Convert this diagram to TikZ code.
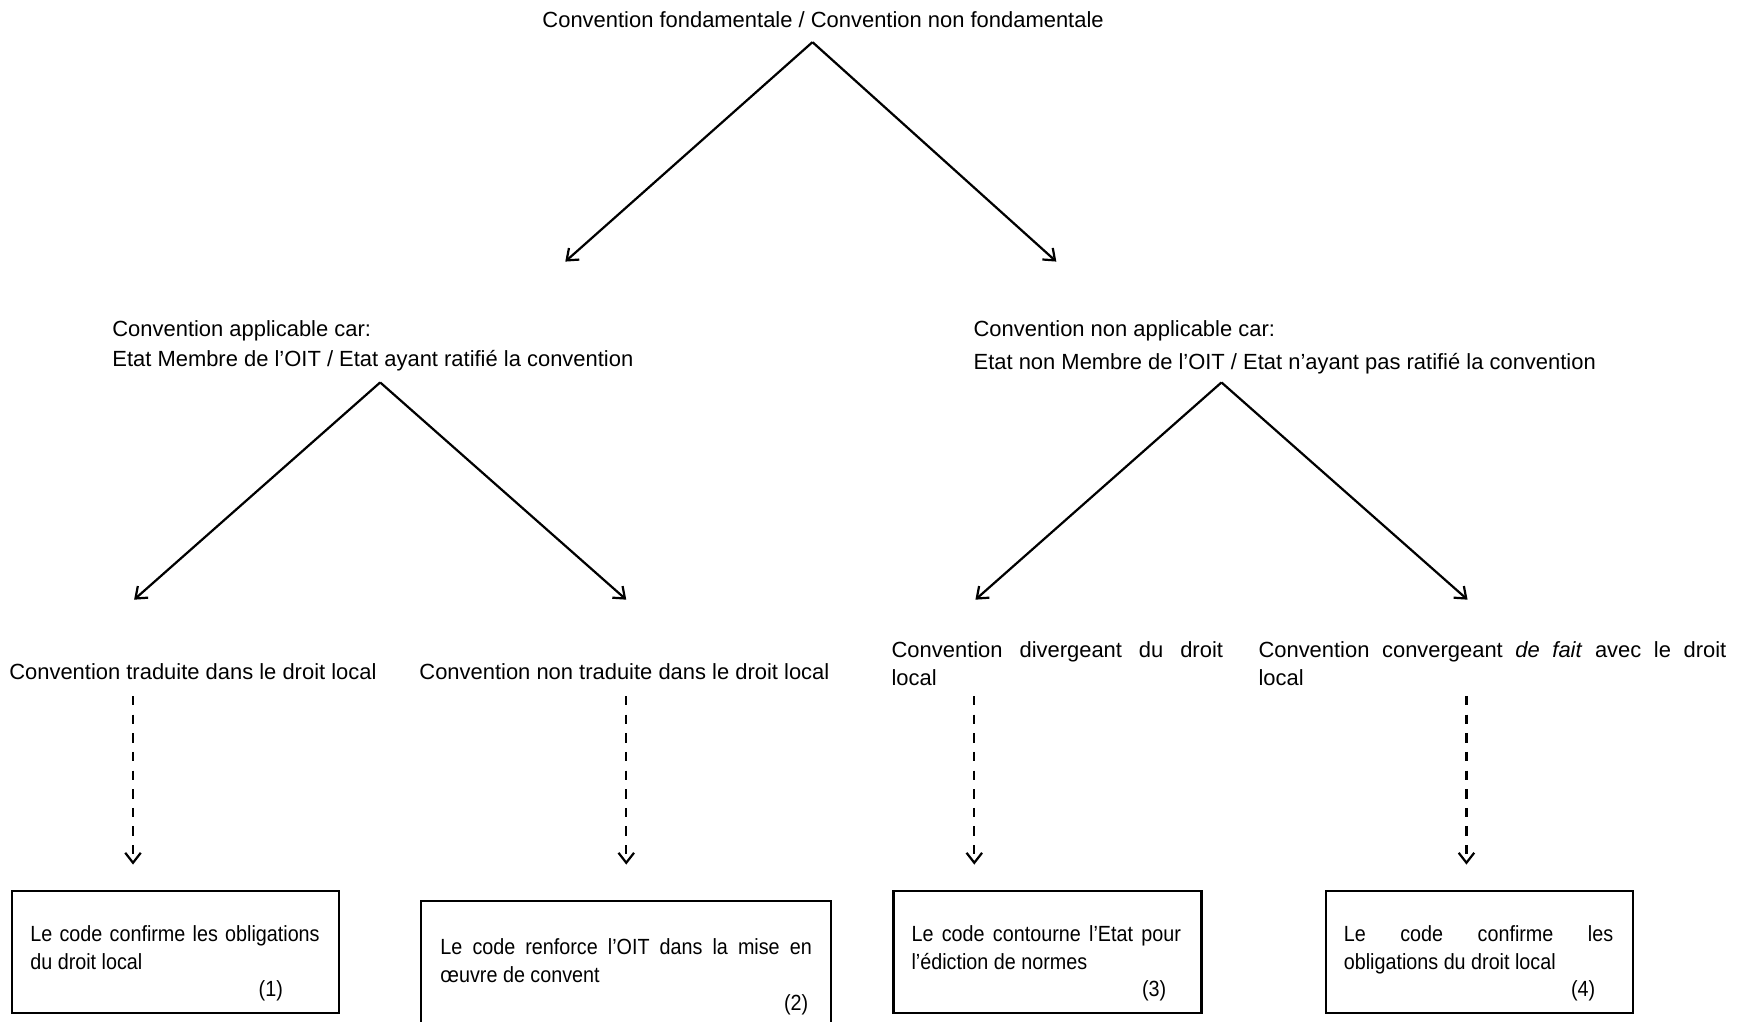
\documentclass[tikz,border=0pt]{standalone}
\usepackage{fontspec}
\setmainfont{Liberation Sans}
\newfontfamily\serre[FakeStretch=0.9,Ligatures=TeX]{Liberation Sans}
\usetikzlibrary{arrows.meta,positioning}
\begin{document}
\fontsize{9.9pt}{12.5pt}\selectfont
\hyphenpenalty=10000 \exhyphenpenalty=10000
\begin{tikzpicture}[x=.5pt,y=-.5pt,
  txt/.style={anchor=north west,inner sep=0pt,align=left},
  bloc/.style={anchor=north west,inner sep=0pt,text width=#1,align=justify},
  petit/.style={bloc=#1,font=\serre},
  cadre/.style={draw,line width=1pt,anchor=north west,inner sep=0pt},
  fleche/.style={-{Straight Barb[length=4.5pt,width=7pt]},line width=1pt},
  tiret/.style={fleche,dash pattern=on 4.2pt off 4.2pt}]
\useasboundingbox (0,0) rectangle (1568,922);
% First level
\node[txt] (fond) at (489,10) {Convention fondamentale / Convention non fondamentale};
\coordinate (fond-s) at (733,38);
\coordinate (appl-n) at (510,236);
\coordinate (nappl-n) at (953,236);
\draw[fleche] (fond-s) -- (appl-n);
\draw[fleche] (fond-s) -- (nappl-n);
% Second level
\node[txt] (appl) at (101,289) {Convention applicable car:\\[1pt]
  Etat Membre de l'OIT / Etat ayant ratifié la convention};
\node[txt] (nappl) at (878,289) {Convention non applicable car:\\[2.5pt]
  Etat non Membre de l'OIT / Etat n'ayant pas ratifié la convention};
\coordinate (appl-s) at (343,345);
\coordinate (nappl-s) at (1102,345);
\coordinate (trad-n) at (121,541);
\coordinate (ntrad-n) at (565,541);
\coordinate (div-n) at (880,541);
\coordinate (conv-n) at (1324,541);
\draw[fleche] (appl-s) -- (trad-n);
\draw[fleche] (appl-s) -- (ntrad-n);
\draw[fleche] (nappl-s) -- (div-n);
\draw[fleche] (nappl-s) -- (conv-n);
% Third level
\node[txt] (trad) at (8,598.5) {Convention traduite dans le droit local};
\node[txt] (ntrad) at (378,598.5) {Convention non traduite dans le droit local};
\node[bloc=149.5pt] (div) at (804,578.5) {Convention divergeant du droit\linebreak local};
\node[bloc=211pt] (conv) at (1135,578.5) {Convention convergeant \textit{de fait} avec le droit\linebreak local};
% Boxes
\node[cadre,minimum width=147.5pt,minimum height=55pt] (c1) at (10,803) {};
\node[cadre,minimum width=185pt,minimum height=57pt] (c2) at (379,812) {};
\node[cadre,minimum width=139pt,minimum height=55pt] (c3) at (805,803) {};
\node[cadre,minimum width=138.5pt,minimum height=55pt] (c4) at (1195,803) {};
\node[petit=130.5pt] (t1) at (27,834.5) {Le code confirme les obligations\linebreak
  du droit local\\\hspace*{103pt}(1)};
\node[petit=167.5pt] (t2) at (397,846.5) {Le code renforce l'OIT dans la mise en\linebreak
  œuvre de convent\\\hspace*{155pt}(2)};
\node[petit=121.5pt] (t3) at (822,834.5) {Le code contourne l'Etat pour\linebreak
  l'édiction de normes\\\hspace*{104pt}(3)};
\node[petit=121.5pt] (t4) at (1212,834.5) {Le code confirme les\linebreak
  obligations du droit local\\\hspace*{102.5pt}(4)};
% Dashed links
\coordinate (trad-s) at (120,628);
\coordinate (ntrad-s) at (565,628);
\coordinate (div-s) at (879,628);
\coordinate (conv-s) at (1323,628);
\draw[tiret] (trad-s) -- (trad-s |- 0,780);
\draw[tiret] (ntrad-s) -- (ntrad-s |- 0,780);
\draw[tiret] (div-s) -- (div-s |- 0,780);
\draw[tiret] (conv-s) -- (conv-s |- 0,780);
\end{tikzpicture}
\end{document}
